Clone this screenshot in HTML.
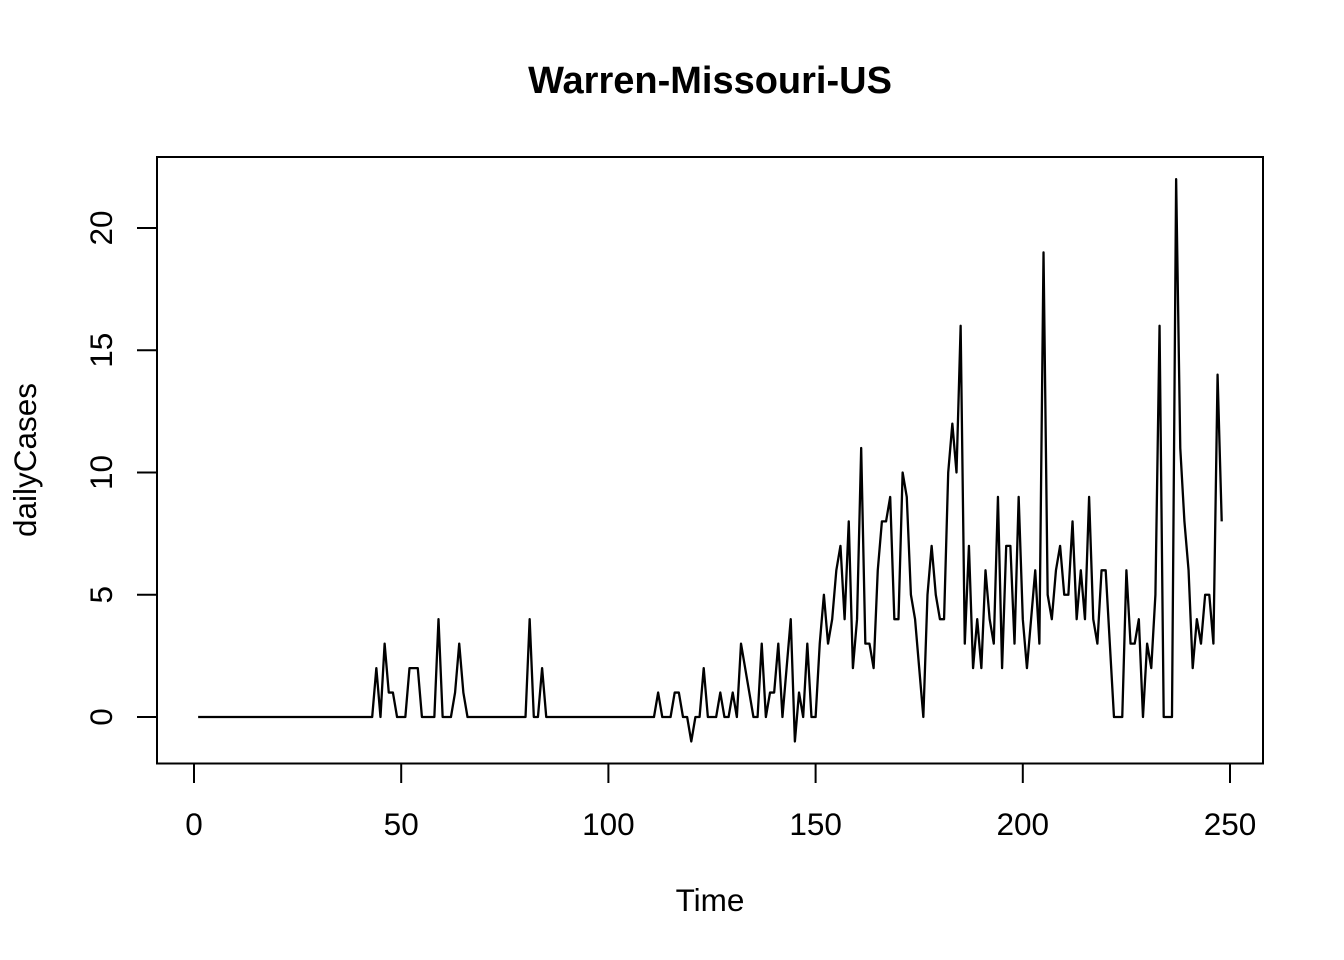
<!DOCTYPE html>
<html><head><meta charset="utf-8"><style>
html,body{margin:0;padding:0;background:#fff;}
svg{display:block;font-family:"Liberation Sans",Arial,sans-serif;}
</style></head><body>
<svg id="chart" width="1344" height="960" viewBox="0 0 1344 960" xmlns="http://www.w3.org/2000/svg">
<rect width="1344" height="960" fill="#fff"/>
<text x="710" y="93" text-anchor="middle" font-size="38" font-weight="bold">Warren-Missouri-US</text>
<rect x="157" y="157" width="1106" height="606.5" fill="none" stroke="#000" stroke-width="2"/>
<g id="xaxis"></g>
<g id="yaxis"></g>
<text x="710" y="911" text-anchor="middle" font-size="31.5">Time</text>
<text transform="translate(36,460) rotate(-90)" text-anchor="middle" font-size="31.5">dailyCases</text>
<path id="series" fill="none" stroke="#000" stroke-width="2.3" stroke-linejoin="round"/>
</svg>
<script>
const xTicks = [0, 50, 100, 150, 200, 250];
const yTicks = [0, 5, 10, 15, 20];
const dailyCases = [
0,0,0,0,0,0,0,0,0,0,0,0,0,0,0,0,0,0,0,0,0,0,0,0,0,0,0,0,0,0,0,0,0,0,0,0,0,0,0,0,0,0,0,
2,0,3,1,1,0,0,0,2,2,2,0,0,0,0,4,0,0,0,1,3,1,0,
0,0,0,0,0,0,0,0,0,0,0,0,0,0,
4,0,0,2,0,
0,0,0,0,0,0,0,0,0,0,0,0,0,0,0,0,0,0,0,0,0,0,0,0,0,0,
1,0,0,0,1,1,0,0,-1,0,0,2,0,0,0,1,0,0,1,0,3,2,1,0,0,3,0,1,1,3,0,2,4,-1,1,0,3,0,0,
3,5,3,4,6,7,4,8,2,4,11,3,3,2,6,8,8,9,4,4,10,9,5,4,2,0,5,7,5,4,4,10,12,10,16,3,7,2,4,2,6,4,3,9,
2,7,7,3,9,4,2,4,6,3,19,5,4,6,7,5,5,8,4,6,4,9,4,3,6,6,3,0,0,0,6,3,3,4,0,3,2,5,16,0,0,0,
22,11,8,6,2,4,3,5,5,3,14,8
];
const X0 = 194, X250 = 1230, Y0 = 717, Y20 = 228;
function xs(t){ return X0 + (X250 - X0) * t / 250; }
function ys(v){ return Y0 + (Y20 - Y0) * v / 20; }
const NS = 'http://www.w3.org/2000/svg';
const xg = document.getElementById('xaxis');
const yg = document.getElementById('yaxis');
for (const t of xTicks) {
  const l = document.createElementNS(NS, 'line');
  l.setAttribute('x1', xs(t)); l.setAttribute('x2', xs(t));
  l.setAttribute('y1', 763); l.setAttribute('y2', 783);
  l.setAttribute('stroke', '#000'); l.setAttribute('stroke-width', 2);
  
  
  xg.appendChild(l);
  const tx = document.createElementNS(NS, 'text');
  tx.setAttribute('x', xs(t)); tx.setAttribute('y', 835);
  tx.setAttribute('text-anchor', 'middle'); tx.setAttribute('font-size', 31.5);
  tx.textContent = t;
  
  
  xg.appendChild(tx);
}
for (const v of yTicks) {
  const l = document.createElementNS(NS, 'line');
  l.setAttribute('x1', 137); l.setAttribute('x2', 157);
  l.setAttribute('y1', ys(v)); l.setAttribute('y2', ys(v));
  l.setAttribute('stroke', '#000'); l.setAttribute('stroke-width', 2);
  
  
  yg.appendChild(l);
  const tx = document.createElementNS(NS, 'text');
  tx.setAttribute('transform', 'translate(112,' + ys(v) + ') rotate(-90)');
  tx.setAttribute('text-anchor', 'middle'); tx.setAttribute('font-size', 31.5);
  tx.textContent = v;
  
  
  yg.appendChild(tx);
}
let d = '';
dailyCases.forEach((v, i) => { d += (i ? 'L' : 'M') + xs(i + 1).toFixed(2) + ',' + ys(v).toFixed(2); });
document.getElementById('series').setAttribute('d', d);
</script>
</body></html>
